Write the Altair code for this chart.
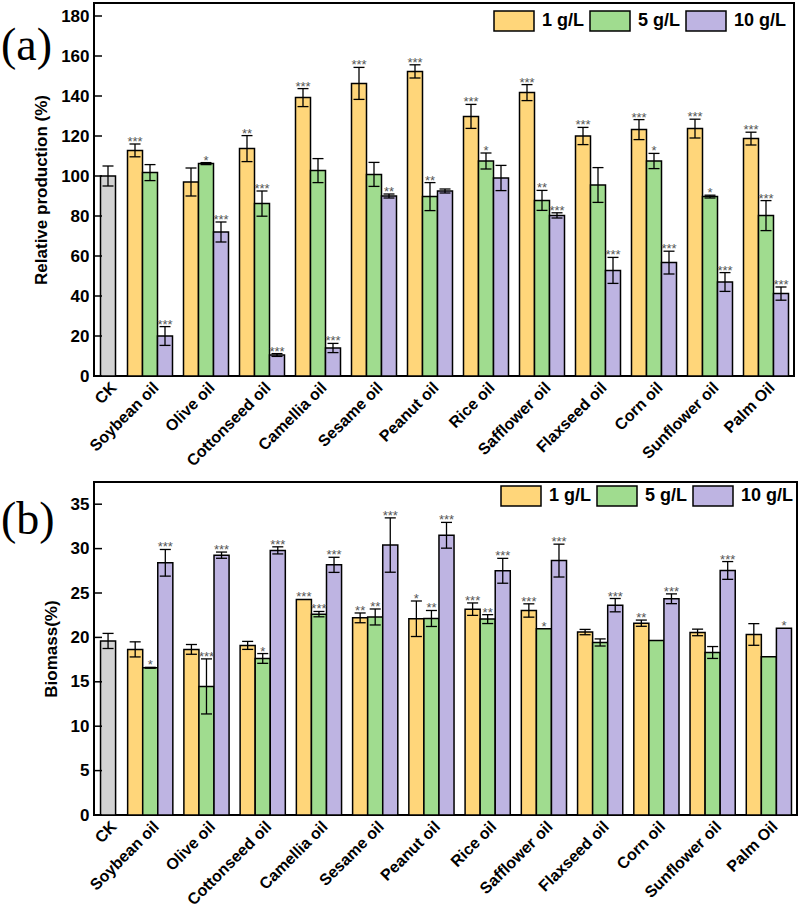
import json
import altair as alt
import pandas as pd

# ---------------- data ----------------
oils = ["Soybean oil", "Olive oil", "Cottonseed oil", "Camellia oil", "Sesame oil",
        "Peanut oil", "Rice oil", "Safflower oil", "Flaxseed oil", "Corn oil",
        "Sunflower oil", "Palm Oil"]
doses = ["1 g/L", "5 g/L", "10 g/L"]
dose_colors = ["#FFD67A", "#A0DC8F", "#BEB4E2"]
ck_color = "#D3D3D3"

# (a) relative production (%)
ck_prod, ck_prod_err = 100.0, 5.0
prod_1 = [112.8, 97.0, 113.7, 139.2, 146.3, 152.3, 129.8, 141.7, 120.0, 123.2, 123.7, 118.7]
prod_1_err = [3.2, 7.0, 6.5, 4.5, 8.0, 3.3, 6.0, 4.0, 4.3, 5.0, 4.7, 3.2]
prod_1_sig = ["***", "", "**", "***", "***", "***", "***", "***", "***", "***", "***", "***"]
prod_5 = [101.7, 106.2, 86.2, 102.7, 100.8, 89.7, 107.5, 87.8, 95.5, 107.5, 89.7, 80.2]
prod_5_err = [4.0, 0.5, 6.3, 6.0, 6.0, 7.0, 4.0, 5.0, 8.7, 3.8, 0.7, 7.5]
prod_5_sig = ["", "*", "***", "", "", "**", "*", "**", "", "*", "*", "***"]
prod_10 = [20.0, 72.0, 10.5, 14.0, 90.0, 92.5, 99.0, 80.3, 52.8, 56.7, 47.0, 41.2]
prod_10_err = [4.7, 5.0, 0.7, 2.3, 1.0, 1.0, 6.3, 1.3, 6.5, 5.7, 4.7, 3.3]
prod_10_sig = ["***", "***", "***", "***", "**", "", "", "***", "***", "***", "***", "***"]

# (b) biomass (%)
ck_bio, ck_bio_err = 19.6, 0.85
bio_1 = [18.65, 18.65, 19.1, 24.27, 22.2, 22.1, 23.18, 23.03, 20.6, 21.6, 20.56, 20.33]
bio_1_err = [0.85, 0.55, 0.45, 0.0, 0.55, 2.0, 0.7, 0.75, 0.3, 0.35, 0.37, 1.22]
bio_1_sig = ["", "", "", "***", "**", "*", "***", "***", "", "**", "", ""]
bio_5 = [16.58, 14.48, 17.63, 22.62, 22.3, 22.13, 22.06, 20.97, 19.43, 19.65, 18.3, 17.82]
bio_5_err = [0.05, 3.1, 0.55, 0.3, 0.9, 0.9, 0.5, 0.0, 0.4, 0.0, 0.67, 0.0]
bio_5_sig = ["*", "***", "*", "***", "**", "**", "**", "*", "", "", "", ""]
bio_10 = [28.4, 29.26, 29.8, 28.17, 30.4, 31.5, 27.5, 28.65, 23.63, 24.35, 27.54, 21.04]
bio_10_err = [1.5, 0.35, 0.4, 0.85, 3.06, 1.45, 1.4, 1.85, 0.75, 0.55, 1.0, 0.0]
bio_10_sig = ["***", "***", "***", "***", "***", "***", "***", "***", "***", "***", "***", "*"]

yticks_a = [0, 20, 40, 60, 80, 100, 120, 140, 160, 180]
yticks_b = [0, 5, 10, 15, 20, 25, 30, 35]

# ---------------- layout constants ----------------
BAR_W = 15.0 / 56.0
CAP_W = 11.0 / 56.0
CK_POS = 0.25
FONT = "Liberation Sans"

tick_pos = [CK_POS] + [i + 1 for i in range(len(oils))]
label_expr = json.dumps(["CK"] + oils) + "[round(datum.value)]"


def make_df(ck_val, ck_err, vals, errs, sigs):
    rows = [dict(pos=CK_POS, k=0, dose="CK", value=ck_val, err=ck_err, sig="")]
    for d_i, dose in enumerate(doses):
        for g in range(len(oils)):
            rows.append(dict(pos=g + 1, k=d_i - 1, dose=dose, value=vals[d_i][g],
                             err=errs[d_i][g], sig=sigs[d_i][g]))
    return pd.DataFrame(rows)


def panel(df, ymax, yticks, ytitle, tag, width, height, legend_offset, tag_y):
    xscale = alt.Scale(domain=[0, 12.5], nice=False, zero=False)
    yscale = alt.Scale(domain=[0, ymax], nice=False, zero=True)
    base = alt.Chart(df).transform_calculate(
        xc=f"datum.pos + datum.k * {BAR_W}"
    ).transform_calculate(
        xa=f"datum.xc - {BAR_W / 2}",
        xb=f"datum.xc + {BAR_W / 2}",
        lo="datum.value - datum.err",
        hi="datum.value + datum.err",
        c1=f"datum.xc - {CAP_W / 2}",
        c2=f"datum.xc + {CAP_W / 2}",
        zero="0",
    )
    bars = base.mark_rect(stroke="black", strokeWidth=1.5).encode(
        x=alt.X("xa:Q", scale=xscale,
                axis=alt.Axis(values=tick_pos, labelExpr=label_expr, labelAngle=-45,
                              labelFont=FONT, labelFontSize=16, labelFontWeight="bold",
                              labelColor="black", labelPadding=3, ticks=False, domain=False,
                              grid=False, title=None, labelOverlap=False, labelBound=False,
                              labelFlush=False)),
        x2="xb:Q",
        y=alt.Y("value:Q", scale=yscale,
                axis=alt.Axis(values=yticks, labelFont=FONT, labelFontSize=17,
                              labelFontWeight="bold", labelColor="black", labelPadding=5,
                              ticks=False, domain=False, grid=False, title=ytitle,
                              titleFont=FONT, titleFontSize=17, titleFontWeight="bold",
                              titleColor="black", titlePadding=10)),
        y2="zero:Q",
        fill=alt.Fill("dose:N",
                      scale=alt.Scale(domain=doses + ["CK"], range=dose_colors + [ck_color]),
                      legend=alt.Legend(title=None, values=doses, orient="top-right",
                                        direction="horizontal", symbolType="M-1,-1H3V1H-1Z",
                                        symbolSize=400, symbolStrokeColor="black",
                                        symbolStrokeWidth=1.5, symbolOpacity=1,
                                        labelFont=FONT, labelFontSize=18,
                                        labelFontWeight="bold", labelColor="black",
                                        labelOffset=27, columnPadding=2, offset=legend_offset,
                                        padding=0)),
    )
    errs = base.transform_filter("datum.err > 0")
    err_line = errs.mark_rule(color="black", strokeWidth=1.3).encode(
        x=alt.X("xc:Q", scale=xscale),
        y=alt.Y("lo:Q", scale=yscale),
        y2="hi:Q",
    )
    cap_top = errs.mark_rule(color="black", strokeWidth=1.3).encode(
        x=alt.X("c1:Q", scale=xscale), x2="c2:Q",
        y=alt.Y("hi:Q", scale=yscale),
    )
    cap_bot = errs.mark_rule(color="black", strokeWidth=1.3).encode(
        x=alt.X("c1:Q", scale=xscale), x2="c2:Q",
        y=alt.Y("lo:Q", scale=yscale),
    )
    stars = base.transform_filter("datum.sig != ''").mark_text(
        font=FONT, fontSize=13, color="#555555", baseline="alphabetic", dy=2
    ).encode(
        x=alt.X("xc:Q", scale=xscale),
        y=alt.Y("hi:Q", scale=yscale),
        text="sig:N",
    )
    ticks = alt.Chart(pd.DataFrame({"t": yticks})).mark_rule(
        color="black", strokeWidth=1.5
    ).encode(
        y=alt.Y("t:Q", scale=yscale),
        x=alt.value(0), x2=alt.value(8),
    )
    label = alt.Chart(pd.DataFrame({"tag": [tag]})).mark_text(
        font="Liberation Serif", fontSize=46, align="left", baseline="middle", color="black"
    ).encode(x=alt.value(-93), y=alt.value(tag_y), text="tag:N")
    return alt.layer(bars, err_line, cap_top, cap_bot, stars, ticks, label).properties(
        width=width, height=height)


df_a = make_df(ck_prod, ck_prod_err, [prod_1, prod_5, prod_10],
               [prod_1_err, prod_5_err, prod_10_err], [prod_1_sig, prod_5_sig, prod_10_sig])
df_b = make_df(ck_bio, ck_bio_err, [bio_1, bio_5, bio_10],
               [bio_1_err, bio_5_err, bio_10_err], [bio_1_sig, bio_5_sig, bio_10_sig])

pa = panel(df_a, 186.5, yticks_a, "Relative production (%)", "(a)", 700, 373, 7, 43)
pb = panel(df_b, 37.5, yticks_b, "Biomass(%)", "(b)", 703, 333, 3, 38)

chart = alt.vconcat(pa, pb, spacing=11).resolve_scale(
    fill="independent", x="independent", y="independent"
).resolve_legend(fill="independent").configure_view(
    stroke="black", strokeWidth=2
).properties(padding={"left": 0, "top": 2, "right": 2, "bottom": 2}, background="white")

chart.save("out.html", embed_options={"renderer": "svg", "actions": False})
